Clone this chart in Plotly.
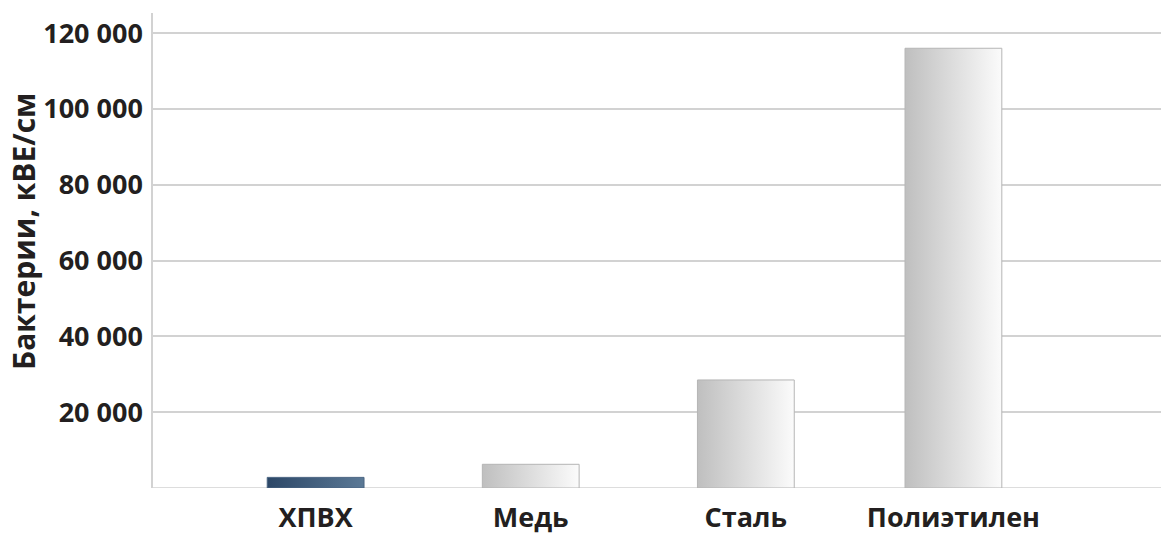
import plotly.graph_objects as go

categories = ["ХПВХ", "Медь", "Сталь", "Полиэтилен"]
values = [2800, 6250, 28500, 116000]
y_ticks = [20000, 40000, 60000, 80000, 100000, 120000]
y_tick_labels = ["20 000", "40 000", "60 000", "80 000", "100 000", "120 000"]

positions = [0, 1, 2, 2.965]
bar_width = 0.45
gradients = [
    [[0, "#2c4767"], [1, "#5b7996"]],
    [[0, "#bfbfbf"], [1, "#fbfbfb"]],
    [[0, "#bfbfbf"], [1, "#fbfbfb"]],
    [[0, "#bfbfbf"], [1, "#fbfbfb"]],
]
outline = ["#4a6582", "#b5b5b5", "#b5b5b5", "#b5b5b5"]

fig = go.Figure()
for i, (cat, val) in enumerate(zip(categories, values)):
    x0 = positions[i] - bar_width / 2
    x1 = positions[i] + bar_width / 2
    fig.add_trace(go.Scatter(
        x=[x0, x1, x1, x0, x0],
        y=[0, 0, val, val, 0],
        mode="lines",
        fill="toself",
        fillgradient=dict(type="horizontal", colorscale=gradients[i]),
        line=dict(color=outline[i], width=1),
        name=cat,
        hoverinfo="skip",
        showlegend=False,
    ))

font_family = "Open Sans, DejaVu Sans, sans-serif"
fig.update_layout(
    width=1161, height=536,
    margin=dict(l=153, r=0, t=13, b=48),
    paper_bgcolor="white", plot_bgcolor="white",
    showlegend=False,
    xaxis=dict(
        range=[-0.756, 3.93],
        tickmode="array", tickvals=positions, ticktext=categories,
        showgrid=False, zeroline=False,
        showline=False, ticks="",
        tickfont=dict(family=font_family, size=27, color="#231f20", weight="bold"),
        ticklabelstandoff=11,
        automargin=False,
        fixedrange=True,
    ),
    yaxis=dict(
        range=[0, 125300],
        tickmode="array", tickvals=y_ticks, ticktext=y_tick_labels,
        showgrid=True, gridcolor="#d2d2d2", gridwidth=1.5,
        zeroline=False,
        showline=True, linecolor="#d2d2d2", linewidth=1.5,
        ticks="",
        tickfont=dict(family=font_family, size=27, color="#231f20", weight="bold"),
        ticklabelstandoff=3,
        automargin=False,
        fixedrange=True,
    ),
    shapes=[dict(type="line", xref="paper", yref="y", x0=0, x1=1, y0=0, y1=0,
                 line=dict(color="#d2d2d2", width=1.5), layer="below")],
    annotations=[dict(
        text="Бактерии, кВЕ/см", textangle=-90,
        xref="paper", yref="paper", x=0, y=0.539,
        xanchor="center", yanchor="middle",
        xshift=-129, showarrow=False,
        font=dict(family=font_family, size=30, color="#231f20", weight="bold"),
    )],
)

fig.write_html("out.html")
